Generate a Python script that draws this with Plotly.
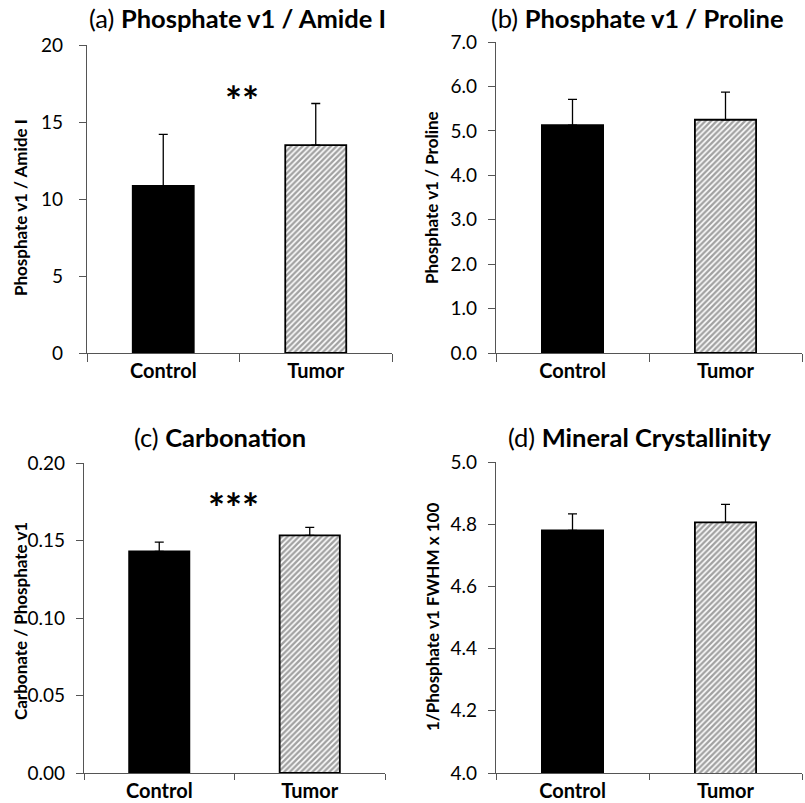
import plotly.graph_objects as go

categories = ["Control", "Tumor"]
a_mean = [10.85, 13.5]
a_err = [3.35, 2.7]
b_mean = [5.13, 5.25]
b_err = [0.58, 0.62]
c_mean = [0.143, 0.1533]
c_err = [0.006, 0.0052]
d_mean = [4.78, 4.806]
d_err = [0.053, 0.058]

titles = ["(a) <b>Phosphate v1 / Amide I</b>", "(b) <b>Phosphate v1 / Proline</b>",
          "(c) <b>Carbonation</b>", "(d) <b>Mineral Crystallinity</b>"]
ytitles = ["Phosphate v1 / Amide I", "Phosphate v1 / Proline",
           "Carbonate / Phosphate v1", "1/Phosphate v1 FWHM x 100"]
yranges = [[0, 20], [0, 7], [0, 0.2], [4, 5]]
ydticks = [5, 1, 0.05, 0.2]
yformats = ["d", ".1f", ".2f", ".1f"]
stars = ["**", "", "***", ""]

W, H = 805, 803
# pixel boxes: x0, x1, ytop, ybottom
boxes = [(87, 392, 45, 353), (496, 802, 42, 353), (84, 385, 463, 773), (496, 802, 462, 773)]
standoffs = [12, 7, 7, 7]
xticklens = [8, 8, 6, 6]
title_pos = [(237, 18), (637, 18), (220, 437), (640, 437)]
ytitle_pos = [(20, 208), (432, 197), (20, 621), (432, 617)]
star_pos = [(242, 101), None, (233, 508), None]

FONT = "Lato, Open Sans, sans-serif"
fig = go.Figure()
means = [a_mean, b_mean, c_mean, d_mean]
errs = [a_err, b_err, c_err, d_err]
ann = []
for i in range(4):
    n = "" if i == 0 else str(i + 1)
    fig.add_trace(go.Bar(
        x=categories, y=means[i], width=0.4,
        xaxis="x" + n, yaxis="y" + n,
        marker=dict(color=["black", "white"],
                    line=dict(color="black", width=1.8),
                    pattern=dict(shape=["", "/"], fgcolor="black", bgcolor="white",
                                 size=4, solidity=0.6)),
        error_y=dict(type="data", array=errs[i], arrayminus=[0, 0], symmetric=False,
                     color="black", thickness=1.3, width=4.5),
        showlegend=False, hoverinfo="skip"))
    x0, x1, yt, yb = boxes[i]
    fig.layout["xaxis" + n] = dict(
        domain=[x0 / W, x1 / W], anchor="y" + n, type="category",
        range=[-0.5, 1.5], tickson="boundaries", ticks="outside", ticklen=xticklens[i],
        tickcolor="#555", showline=True, linecolor="#555", linewidth=1.2,
        tickfont=dict(family=FONT, size=20, color="black", weight="bold"),
        showgrid=False, zeroline=False, automargin=False)
    fig.layout["yaxis" + n] = dict(
        domain=[(H - yb) / H, (H - yt) / H], anchor="x" + n,
        range=yranges[i], dtick=ydticks[i], tick0=yranges[i][0], tickformat=yformats[i],
        ticks="outside", ticklen=7, tickcolor="#555", showline=True,
        linecolor="#555", linewidth=1.2, showgrid=False, zeroline=False,
        ticklabelstandoff=standoffs[i],
        tickfont=dict(family=FONT, size=19, color="black"), automargin=False)
    tx, ty = title_pos[i]
    ann.append(dict(text=titles[i], x=tx / W, y=(H - ty) / H, xref="paper", yref="paper",
                    showarrow=False, font=dict(family=FONT, size=25.5, color="black"),
                    xanchor="center", yanchor="middle"))
    ax, ay = ytitle_pos[i]
    ann.append(dict(text="<b>" + ytitles[i] + "</b>", x=ax / W, y=(H - ay) / H,
                    xref="paper", yref="paper", showarrow=False, textangle=-90,
                    font=dict(family=FONT, size=17, color="black"),
                    xanchor="center", yanchor="middle"))
    if stars[i]:
        sx, sy = star_pos[i]
        ann.append(dict(text="<b>" + stars[i] + "</b>", x=sx / W, y=(H - sy) / H,
                        xref="paper", yref="paper", showarrow=False,
                        font=dict(family=FONT, size=40, color="black"),
                        xanchor="center", yanchor="middle"))

fig.update_layout(width=W, height=H, margin=dict(l=0, r=0, t=0, b=0, pad=0),
                  plot_bgcolor="white", paper_bgcolor="white", annotations=ann,
                  bargap=0.6, hovermode=False)
fig.write_html("out.html", config={"displayModeBar": False},
               post_script="document.body.style.margin='0px';")
